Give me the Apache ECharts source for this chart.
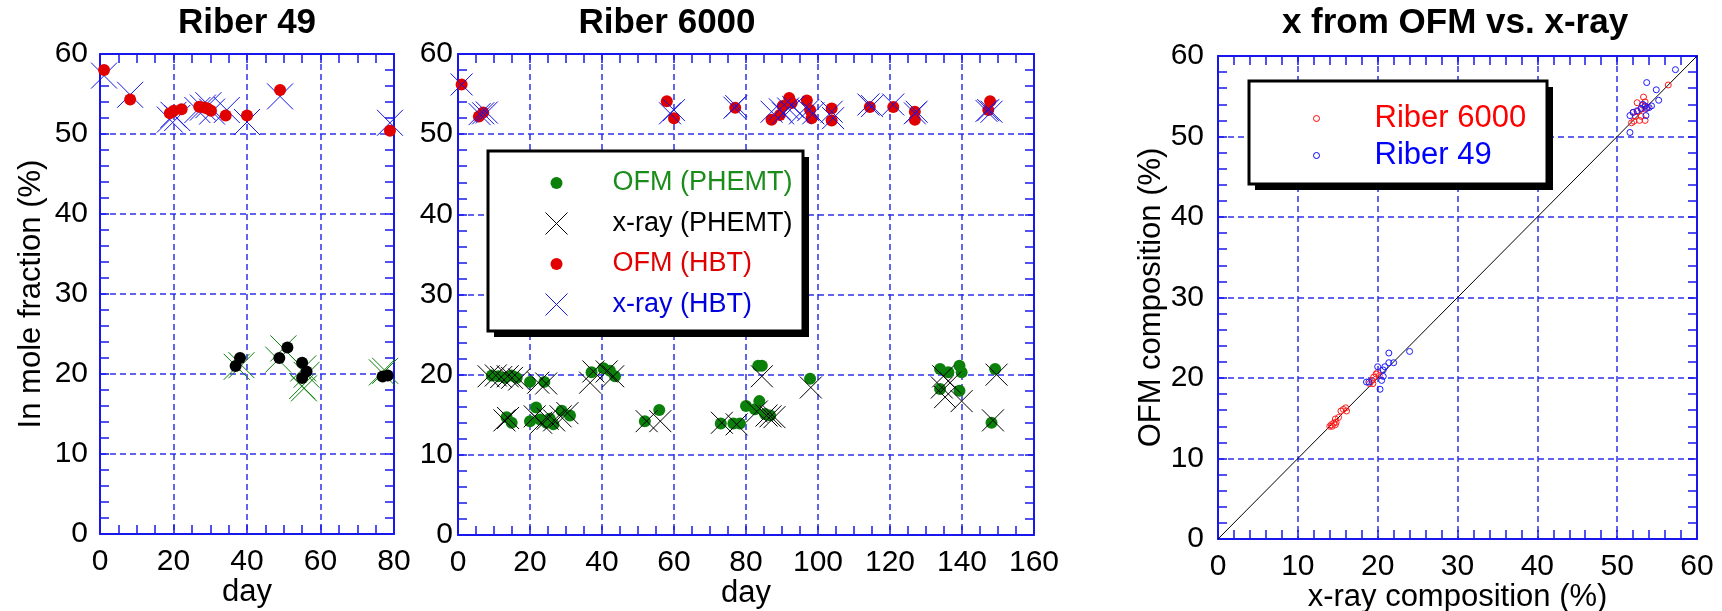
<!DOCTYPE html>
<html>
<head>
<meta charset="utf-8">
<script src="https://cdn.jsdelivr.net/npm/echarts@6/dist/echarts.min.js"></script>
<style>
  html, body { margin: 0; padding: 0; background: #fff; }
  #container { width: 1722px; height: 611px; }
</style>
</head>
<body>
<div id="container"></div>
<script>
// ---- data ----
// Riber 49, [day, In mole fraction %]
const r49OfmHbt = [[1.1, 58.0], [8.2, 54.3], [19.0, 52.6], [20.1, 52.9], [22.2, 53.1], [27.0, 53.4], [28.3, 53.3],
  [29.2, 53.2], [30.2, 52.9], [34.2, 52.3], [40.0, 52.3], [49.0, 55.5], [78.9, 50.4]];
const r49XrayHbt = [[1.1, 57.3], [8.2, 54.9], [19.0, 51.8], [20.0, 52.4], [21.0, 52.0], [26.5, 53.0], [28.0, 53.3],
  [29.5, 53.6], [30.5, 52.8], [34.5, 53.0], [40.0, 51.5], [49.0, 54.7], [78.9, 51.4]];
const r49OfmPhemt = [[36.9, 21.0], [38.1, 22.0], [48.8, 22.0], [51.0, 23.3], [55.0, 21.4], [56.2, 20.3], [55.0, 19.5],
  [76.9, 19.7], [78.3, 19.8]];
const r49XrayPhemt = [[37.2, 20.9], [38.5, 21.1], [48.5, 21.8], [49.9, 23.2], [55.3, 20.7], [56.2, 19.9], [55.0, 18.5],
  [55.5, 18.2], [76.7, 20.2], [77.6, 20.4]];

// Riber 6000
const r6kOfmHbt = [[1.0, 56.2], [5.8, 52.2], [7.0, 52.7], [58.0, 54.1], [60.0, 52.0], [77.0, 53.3], [87.1, 51.8],
  [89.4, 52.4], [90.2, 53.5], [92.0, 54.5], [92.7, 53.9], [96.9, 54.2], [97.8, 53.0], [98.2, 52.0], [103.8, 53.2],
  [103.8, 51.7], [114.4, 53.4], [120.9, 53.4], [126.9, 52.8], [126.9, 51.8], [147.8, 54.1], [147.3, 53.0]];
const r6kXrayHbt = [[1.0, 56.2], [6.0, 52.5], [7.0, 52.6], [8.0, 52.7], [58.9, 52.6], [60.0, 53.0], [76.8, 53.3],
  [77.3, 53.5], [87.1, 52.8], [89.4, 53.1], [90.3, 52.6], [91.7, 53.2], [93.1, 53.4], [95.0, 52.6], [97.3, 53.0],
  [98.7, 52.6], [103.8, 52.8], [104.2, 52.0], [114.0, 53.7], [115.0, 53.5], [120.9, 53.7], [126.9, 52.6],
  [127.4, 52.8], [147.3, 53.0], [148.2, 52.8], [146.8, 52.9]];
const r6kOfmPhemt = [[9.4, 19.9], [11.2, 19.8], [13.1, 19.6], [14.9, 19.9], [16.3, 19.6], [20.0, 19.1], [24.0, 19.1],
  [13.5, 14.7], [14.9, 14.0], [20.0, 14.2], [21.7, 15.9], [22.8, 14.4], [24.6, 14.0], [25.5, 14.5], [26.5, 13.8],
  [28.8, 15.5], [31.1, 14.9], [37.1, 20.3], [40.4, 20.8], [42.2, 20.5], [43.6, 19.8], [51.9, 14.2], [55.9, 15.6],
  [73.0, 13.9], [76.5, 13.9], [78.3, 13.9], [80.0, 16.1], [83.4, 21.1], [84.4, 21.1], [83.7, 16.7], [82.5, 15.7],
  [85.3, 15.1], [86.7, 14.9], [97.8, 19.5], [133.9, 20.7], [133.9, 18.2], [136.2, 20.3], [139.3, 21.1],
  [139.9, 20.3], [139.3, 18.0], [149.2, 20.7], [148.2, 14.0]];
const r6kXrayPhemt = [[8.5, 19.8], [10.5, 19.9], [12.0, 19.7], [13.8, 19.8], [15.0, 19.6], [17.0, 19.4], [22.3, 19.0],
  [24.5, 18.9], [12.9, 14.3], [13.9, 14.6], [21.3, 14.8], [23.1, 14.0], [24.9, 14.5], [26.7, 14.3], [28.5, 14.8],
  [30.4, 15.2], [36.7, 19.0], [37.6, 20.4], [41.3, 20.4], [43.1, 19.8], [52.4, 14.2], [56.2, 14.2], [73.3, 14.0],
  [77.4, 13.8], [84.4, 19.8], [83.0, 15.4], [85.7, 14.9], [86.8, 14.8], [87.9, 14.7], [98.0, 18.4], [134.4, 18.4],
  [134.8, 19.8], [136.7, 19.0], [135.3, 17.2], [139.9, 16.7], [149.6, 20.0], [148.6, 14.3]];

// x from OFM vs x-ray, [x-ray %, OFM %]
const r6kComp = [[56.4, 56.4], [52.5, 54.2], [53.3, 54.9], [53.5, 54.3], [52.0, 53.0], [52.3, 52.5], [52.8, 52.0],
  [53.0, 52.5], [53.5, 52.0], [51.8, 51.7], [52.5, 53.1], [53.0, 53.4], [53.5, 53.4], [52.1, 51.9], [53.2, 53.9],
  [53.8, 53.6], [19.0, 19.3], [19.3, 19.7], [19.5, 20.1], [19.8, 20.5], [20.0, 20.7], [19.4, 19.3], [20.2, 20.3],
  [14.0, 14.0], [14.2, 14.2], [14.5, 14.4], [14.7, 14.9], [14.7, 14.2], [15.1, 15.1], [15.4, 15.9], [15.7, 16.1],
  [16.0, 16.3], [16.1, 15.9], [14.3, 14.0], [14.8, 14.5]];
const r49Comp = [[57.3, 58.3], [53.7, 56.7], [54.9, 55.8], [55.2, 54.5], [51.6, 52.6], [51.6, 50.5], [52.0, 53.0],
  [52.5, 53.2], [53.0, 53.5], [53.2, 54.0], [53.5, 53.8], [53.7, 53.5], [54.0, 53.6], [53.6, 52.6], [54.3, 53.8],
  [18.6, 19.5], [18.9, 19.5], [20.0, 21.4], [20.3, 18.6], [20.5, 19.7], [20.7, 20.2], [20.9, 21.4], [21.4, 23.1],
  [21.4, 21.9], [22.0, 21.9], [24.0, 23.3], [20.7, 21.0]];
const diagLine = [[0, 0], [60, 60]];

// ---- styling ----
const FONT = 'Liberation Sans, Arial, sans-serif';
const AXIS = '#1818ee';
const GRIDC = '#3030ee';
const RED = '#e00000';
const GREEN = '#0b800b';
const MBLUE = '#1414e6';
const XSYM = 'path://M0,0L1,1M1,0L0,1';
// legend icons carry empty move-to corners so that they keep their own size in the legend row
const dotIcon = 'path://M0,0M22,40M5,20A6,6,0,1,1,17,20A6,6,0,1,1,5,20Z';
const xIcon = 'path://M0,9L22,31M22,9L0,31M0,0M22,40';
const ringIcon = 'path://M0,0M30,38M12,19A3,3,0,1,1,18,19A3,3,0,1,1,12,19Z';

function xAxis(gi, max, interval, minorSplit, pos, extra) {
  const main = pos === 'bottom';
  return Object.assign({
    type: 'value', gridIndex: gi, position: pos, min: 0, max: max, interval: interval,
    axisLine: { show: true, onZero: false, lineStyle: { color: AXIS, width: 2 } },
    axisTick: { show: true, inside: true, length: 9, lineStyle: { color: AXIS, width: 1.5 } },
    minorTick: { show: true, splitNumber: minorSplit, length: 9, lineStyle: { color: AXIS, width: 1.5 } },
    axisLabel: { show: main, margin: 13, fontSize: 30, color: '#000', fontFamily: FONT },
    splitLine: { show: main, lineStyle: { color: GRIDC, width: 1.5, type: [6, 4] } },
    nameLocation: 'middle', nameGap: 43, nameMoveOverlap: false,
    nameTextStyle: { fontSize: 31, color: '#000', fontFamily: FONT },
  }, extra || {});
}
function yAxis(gi, pos, extra) {
  const main = pos === 'left';
  return Object.assign({
    type: 'value', gridIndex: gi, position: pos, min: 0, max: 60, interval: 10,
    axisLine: { show: true, onZero: false, lineStyle: { color: AXIS, width: 2 } },
    axisTick: { show: true, inside: true, length: 9, lineStyle: { color: AXIS, width: 1.5 } },
    minorTick: { show: true, splitNumber: 5, length: 9, lineStyle: { color: AXIS, width: 1.5 } },
    axisLabel: { show: main, margin: 12, fontSize: 30, color: '#000', fontFamily: FONT },
    splitLine: { show: main, lineStyle: { color: GRIDC, width: 1.5, type: [6, 4] } },
    nameLocation: 'middle', nameGap: 53, nameMoveOverlap: false,
    nameTextStyle: { fontSize: 31, color: '#000', fontFamily: FONT },
  }, extra || {});
}
function scatter(name, data, gi, symbol, size, color, z) {
  const isX = symbol === XSYM;
  return {
    name: name, type: 'scatter', xAxisIndex: gi, yAxisIndex: gi, data: data, z: z,
    symbol: symbol, symbolSize: size, silent: true,
    itemStyle: isX ? { color: 'none', borderColor: color, borderWidth: 1, opacity: 1 }
                   : { color: color, opacity: 1 },
  };
}
function ring(name, data, color) {
  return {
    name: name, type: 'scatter', xAxisIndex: 2, yAxisIndex: 2, data: data, z: 3,
    symbol: 'circle', symbolSize: 6, silent: true,
    itemStyle: { color: 'none', borderColor: color, borderWidth: 1, opacity: 1 },
  };
}
// framed legend box with a hard drop shadow
function legendFrame(x, y, w, h) {
  return [
    { type: 'rect', z: 4, silent: true, shape: { x: x + 6, y: y + 6, width: w, height: h }, style: { fill: '#000' } },
    { type: 'rect', z: 5, silent: true, shape: { x: x, y: y, width: w, height: h },
      style: { fill: '#fff', stroke: '#000', lineWidth: 3 } },
  ];
}
const titleStyle = { fontSize: 35, fontWeight: 'bold', color: '#000', fontFamily: FONT };

const chart = echarts.init(document.getElementById('container'), null, { renderer: 'canvas' });
const option = {
  animation: false,
  backgroundColor: '#fff',
  title: [
    { text: 'Riber 49', left: 247, top: 6, padding: 0, textAlign: 'center', textStyle: titleStyle },
    { text: 'Riber 6000', left: 667, top: 6, padding: 0, textAlign: 'center', textStyle: titleStyle },
    { text: 'x from OFM vs. x-ray', left: 1455, top: 6, padding: 0, textAlign: 'center', textStyle: titleStyle },
  ],
  grid: [
    { left: 100, top: 54, width: 294, height: 480, containLabel: false, outerBoundsMode: 'none' },
    { left: 458, top: 54, width: 576, height: 481, containLabel: false, outerBoundsMode: 'none' },
    { left: 1218, top: 56, width: 479, height: 483, containLabel: false, outerBoundsMode: 'none' },
  ],
  xAxis: [
    xAxis(0, 80, 20, 4, 'bottom', { name: 'day' }),
    xAxis(1, 160, 20, 4, 'bottom', { name: 'day' }),
    xAxis(2, 60, 10, 5, 'bottom', { name: 'x-ray composition (%)' }),
    xAxis(0, 80, 20, 4, 'top'),
    xAxis(1, 160, 20, 4, 'top'),
    xAxis(2, 60, 10, 5, 'top'),
  ],
  yAxis: [
    yAxis(0, 'left', { name: 'In mole fraction (%)' }),
    yAxis(1, 'left', { axisLabel: { show: true, margin: 5, fontSize: 30, color: '#000', fontFamily: FONT } }),
    yAxis(2, 'left', { name: 'OFM composition (%)', nameGap: 51,
      axisLabel: { show: true, margin: 14, fontSize: 30, color: '#000', fontFamily: FONT } }),
    yAxis(0, 'right'),
    yAxis(1, 'right'),
    yAxis(2, 'right'),
  ],
  graphic: legendFrame(488, 151, 315, 180).concat(legendFrame(1249, 81, 298, 103)),
  legend: [
    {
      orient: 'vertical', left: 488, top: 151, align: 'left', selectedMode: false, z: 6,
      itemWidth: 102, itemHeight: 40, itemGap: -2, padding: [12, 13, 10, 55],
      textStyle: { fontSize: 27, lineHeight: 30, fontFamily: FONT },
      data: [
        { name: 'OFM (PHEMT)', icon: dotIcon, itemStyle: { color: GREEN, borderWidth: 0 }, textStyle: { color: '#1a8c1a' } },
        { name: 'x-ray (PHEMT)', icon: xIcon, itemStyle: { color: 'none', borderColor: '#000', borderWidth: 1 }, textStyle: { color: '#000' } },
        { name: 'OFM (HBT)', icon: dotIcon, itemStyle: { color: RED, borderWidth: 0 }, textStyle: { color: '#e00000' } },
        { name: 'x-ray (HBT)', icon: xIcon, itemStyle: { color: 'none', borderColor: MBLUE, borderWidth: 1 }, textStyle: { color: '#0000dd' } },
      ],
    },
    {
      orient: 'vertical', left: 1249, top: 81, align: 'left', selectedMode: false, z: 6,
      itemWidth: 106, itemHeight: 38, itemGap: -6, padding: [16, 21, 13, 50],
      textStyle: { fontSize: 31, lineHeight: 32, fontFamily: FONT },
      data: [
        { name: 'Riber 6000', icon: ringIcon, itemStyle: { color: 'none', borderColor: '#ff0000', borderWidth: 1 }, textStyle: { color: '#ff0000' } },
        { name: 'Riber 49', icon: ringIcon, itemStyle: { color: 'none', borderColor: '#0000ff', borderWidth: 1 }, textStyle: { color: '#0000ff' } },
      ],
    },
  ],
  series: [
    // Riber 49: crosses under dots
    scatter('R49 x-ray (HBT)', r49XrayHbt, 0, XSYM, 26, MBLUE, 2),
    scatter('R49 x-ray (PHEMT)', r49XrayPhemt, 0, XSYM, 26, GREEN, 2),
    scatter('R49 OFM (HBT)', r49OfmHbt, 0, 'circle', 12, RED, 3),
    scatter('R49 OFM (PHEMT)', r49OfmPhemt, 0, 'circle', 12, '#000', 3),
    // Riber 6000: dots under crosses
    scatter('OFM (PHEMT)', r6kOfmPhemt, 1, 'circle', 12, GREEN, 2),
    scatter('OFM (HBT)', r6kOfmHbt, 1, 'circle', 12, RED, 2),
    scatter('x-ray (PHEMT)', r6kXrayPhemt, 1, XSYM, 22, '#000', 3),
    scatter('x-ray (HBT)', r6kXrayHbt, 1, XSYM, 22, MBLUE, 3),
    // OFM vs x-ray
    {
      name: 'y = x', type: 'line', xAxisIndex: 2, yAxisIndex: 2, data: diagLine, z: 2,
      showSymbol: false, silent: true, lineStyle: { color: '#000', width: 1 },
    },
    ring('Riber 6000', r6kComp, '#ff1a1a'),
    ring('Riber 49', r49Comp, '#1a1aff'),
  ],
};
chart.setOption(option);
</script>
</body>
</html>
